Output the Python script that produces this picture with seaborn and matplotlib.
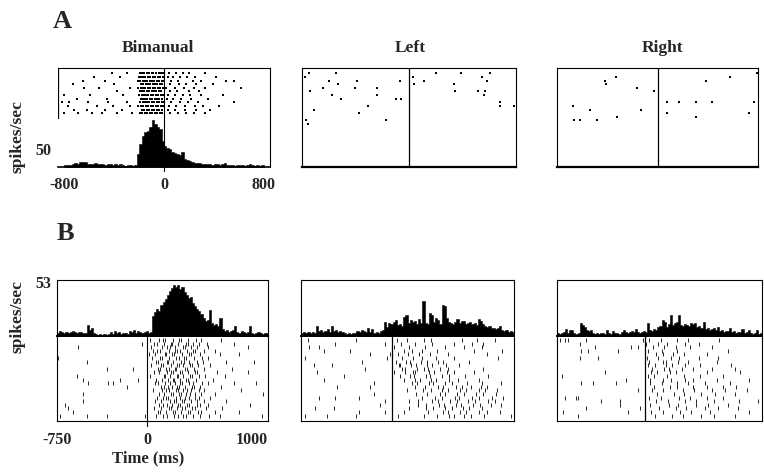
import numpy as np
import pandas as pd
import matplotlib
matplotlib.use("Agg")
import matplotlib.pyplot as plt
import seaborn as sns

# ---------------- DATA ----------------
titles = ["Bimanual", "Left", "Right"]
a_xticks = [-800, 0, 800]
a_xticklabels = ["-800", "0", "800"]
b_xticks = [-750, 0, 1000]
b_xticklabels = ["-750", "0", "1000"]
a_ytick = 50
b_ytick = 53

# A: PSTH values (spikes/sec), 80 bins from -800 to 800 ms
a_bi_hist = [5, 6, 5, 7, 12, 8, 14, 13, 14, 9, 8, 9, 10, 8, 9, 7, 6, 7, 8, 6,
             7, 6, 7, 5, 4, 6, 5, 4, 5, 35, 63, 86, 95, 98, 109, 130, 118, 109, 105, 72,
             58, 52, 49, 42, 38, 36, 32, 42, 21, 18, 16, 15, 12, 12, 11, 8, 7, 8, 7, 6,
             7, 8, 6, 7, 10, 5, 6, 5, 4, 5, 6, 5, 4, 5, 8, 5, 4, 5, 4, 5]
a_left_hist = [1, 0, 2, 1, 0, 1, 0, 0, 1, 2, 1, 0, 1, 0, 1, 1, 0, 2, 1, 0,
               1, 0, 1, 1, 2, 0, 1, 0, 1, 1, 0, 2, 1, 0, 1, 0, 2, 1, 0, 1]
a_right_hist = [0, 1, 0, 0, 1, 0, 1, 0, 0, 1, 0, 1, 2, 1, 0, 1, 2, 1, 1, 0,
                2, 1, 0, 1, 2, 1, 0, 1, 1, 2, 0, 1, 0, 1, 0, 0, 1, 0, 1, 0]

# A: rasters (spike times in ms, one list per trial)
a_bi_raster = [
    [-420, -300, -195, -178, -160, -140, -122, -100, -85, -62, -40, -22, -5, 40, 95, 150, 200, 330],
    [-560, -350, -200, -182, -165, -150, -128, -110, -90, -70, -50, -30, -12, 30, 75, 130, 185, 250, 420],
    [-650, -475, -210, -190, -170, -152, -135, -115, -95, -78, -55, -38, -18, 0, 60, 110, 230, 300, 500, 560],
    [-730, -400, -185, -168, -148, -130, -112, -92, -72, -55, -35, -15, 50, 120, 175, 260, 390],
    [-640, -520, -270, -205, -188, -170, -150, -132, -110, -92, -75, -52, -30, -10, 20, 90, 160, 240, 330, 620],
    [-380, -195, -175, -158, -140, -120, -100, -82, -62, -42, -22, 45, 105, 200, 280],
    [-800, -590, -330, -200, -180, -162, -145, -125, -105, -88, -68, -48, -28, -8, 35, 85, 150, 210, 300, 470],
    [-700, -460, -188, -170, -152, -135, -115, -95, -75, -58, -38, -18, 25, 70, 140, 220, 350],
    [-820, -760, -610, -450, -300, -190, -172, -155, -138, -118, -98, -80, -60, -40, -20, 0, 55, 125, 190, 270, 560],
    [-770, -540, -410, -270, -205, -185, -165, -147, -128, -108, -88, -68, -48, -28, -10, 40, 100, 165, 245, 310, 440],
    [-720, -620, -470, -340, -180, -160, -140, -120, -100, -80, -60, -40, -20, 30, 90, 170, 260, 370],
    [-800, -690, -580, -500, -380, -260, -195, -175, -155, -135, -115, -95, -75, -55, -35, -15, 50, 110, 180, 240, 330],
]
a_left_raster = [
    [-794, -580, 214, 410, 646], [-830, 29, 577], [-638, -410, -71, 117, 622],
    [-561, 42, 355], [-686, -426, -252], [-786, 365, 551, 604], [-609, -254, 593],
    [-543, -106, -64], [720], [-328, 720, 834], [-755], [-395], [], [-821, -183], [-802],
]
a_right_raster = [
    [841], [-350, 611], [-443, 409], [-434], [-176], [-27], [], [],
    [77, 184, 325, 457, 814], [-715], [-569, -142], [77, 771], [-339, 325], [-704, -659, -513],
]

# B: PSTH values (spikes/sec), 100 bins from -750 to 1000 ms
b_bi_hist = [3, 5, 4, 3, 4, 3, 4, 5, 4, 3, 4, 4, 3, 3, 11, 6, 8, 3, 2, 1,
             2, 1, 2, 1, 2, 4, 2, 5, 3, 4, 2, 3, 3, 2, 5, 4, 6, 3, 5, 4,
             3, 4, 5, 3, 4, 20, 24, 27, 25, 30, 33, 36, 40, 44, 47, 50, 48, 50, 46, 48,
             43, 40, 37, 38, 32, 29, 27, 25, 22, 18, 15, 16, 26, 13, 11, 12, 10, 18, 7, 5,
             6, 4, 5, 6, 10, 4, 3, 5, 4, 3, 4, 10, 3, 2, 3, 4, 3, 2, 3, 3]
b_left_hist = [3, 4, 3, 4, 3, 4, 3, 10, 5, 6, 4, 5, 7, 4, 10, 5, 6, 4, 5, 4,
               3, 2, 3, 2, 3, 3, 5, 4, 6, 5, 4, 8, 4, 7, 3, 4, 3, 5, 6, 14,
               9, 13, 12, 14, 16, 11, 12, 10, 19, 21, 13, 16, 14, 15, 12, 17, 13, 34, 13, 12,
               23, 21, 14, 18, 16, 12, 30, 29, 18, 14, 13, 12, 14, 17, 13, 15, 15, 12, 13, 14,
               12, 13, 11, 17, 15, 12, 10, 9, 10, 8, 8, 7, 8, 10, 6, 5, 6, 4, 5, 4]
b_right_hist = [3, 2, 3, 4, 7, 3, 6, 6, 3, 2, 3, 13, 11, 9, 6, 5, 6, 3, 2, 3,
                2, 3, 3, 2, 6, 3, 2, 5, 3, 3, 2, 4, 6, 4, 3, 4, 5, 4, 7, 4,
                3, 4, 5, 4, 13, 6, 5, 7, 6, 9, 10, 16, 14, 9, 12, 21, 11, 13, 14, 21,
                11, 10, 12, 11, 10, 13, 12, 13, 9, 10, 8, 14, 7, 8, 6, 7, 8, 6, 9, 5,
                6, 4, 5, 5, 8, 4, 5, 3, 4, 4, 7, 3, 4, 6, 3, 2, 3, 6, 2, 3]

# B: rasters (spike times in ms, one list per trial)
b_bi_raster = [
    [22, 95, 131, 149, 212, 263, 281, 339, 402, 447, 610],
    [-47, 58, 77, 139, 196, 204, 251, 318, 333, 376, 428, 491, 720],
    [-572, 31, 118, 166, 187, 230, 297, 311, 364, 415, 504, 830],
    [47, 83, 101, 175, 226, 243, 270, 325, 381, 398, 471, 560],
    [12, 66, 142, 158, 207, 219, 288, 344, 359, 436, 600, 760],
    [-738, 39, 105, 124, 183, 235, 262, 306, 320, 389, 455, 500],
    [-503, 74, 91, 160, 171, 214, 276, 302, 347, 411, 462, 650, 880],
    [27, 112, 128, 192, 248, 259, 293, 355, 372, 419, 520],
    [-337, -116, 85, 103, 150, 178, 227, 241, 310, 329, 386, 466, 700],
    [53, 97, 163, 199, 216, 268, 284, 337, 394, 408, 580, 830],
    [-586, 18, 134, 147, 186, 242, 255, 299, 351, 366, 431, 478, 640],
    [-531, -227, -75, 70, 121, 168, 209, 222, 273, 316, 340, 402, 540],
    [-490, -323, -282, 61, 88, 145, 190, 229, 266, 287, 348, 377, 452, 500, 720, 900],
    [-171, 109, 137, 174, 203, 245, 262, 315, 369, 385, 440, 610],
    [44, 119, 156, 181, 233, 254, 296, 331, 362, 425, 467, 780],
    [-531, 92, 140, 197, 211, 258, 279, 323, 354, 398, 445, 560, 960],
    [81, 126, 153, 170, 238, 269, 308, 345, 391, 424, 520],
    [-531, 66, 116, 185, 220, 236, 290, 303, 362, 413, 473, 650],
    [-683, 99, 132, 164, 201, 250, 272, 326, 343, 407, 438, 500, 850],
    [-655, 57, 113, 179, 194, 246, 283, 312, 371, 395, 483, 620],
    [-614, 88, 107, 151, 213, 228, 275, 335, 350, 416, 447, 560, 760],
    [-724, -503, -337, -20, 72, 133, 161, 224, 257, 294, 321, 379, 433, 510, 600, 950],
]
b_left_raster = [
    [-690, -300, 35, 122, 263, 318, 571, 694, 842],
    [-468, -58, 71, 183, 326, 508, 657, 749],
    [-687, -605, 14, 139, 266, 437, 589, 733],
    [-564, -345, 96, 158, 247, 371, 672, 905],
    [-181, -16, 44, 131, 219, 312, 461, 778],
    [-720, -44, 83, 167, 241, 357, 503, 866],
    [-250, 27, 114, 149, 236, 282, 373, 418, 627],
    [-646, -496, 52, 66, 157, 194, 288, 329, 441, 552],
    [-222, 79, 108, 201, 264, 297, 392, 456, 746],
    [-619, 18, 103, 171, 188, 304, 339, 447, 511, 671],
    [-400, 61, 142, 176, 275, 309, 412, 469, 597, 788],
    [-560, 97, 186, 229, 314, 362, 466, 538, 712],
    [-150, 162, 207, 301, 338, 431, 489, 613, 737, 891],
    [-455, -181, 189, 271, 377, 419, 527, 571, 648, 731, 782],
    [-780, 117, 253, 318, 412, 458, 553, 607, 714, 758, 862],
    [-153, 193, 287, 392, 436, 533, 588, 691, 748, 853],
    [-605, -468, -277, 247, 352, 408, 512, 549, 652, 709, 823, 911],
    [-58, 134, 208, 323, 378, 474, 529, 623, 677, 784, 848],
    [-99, 211, 278, 383, 427, 522, 568, 662, 717, 812, 893],
    [-633, -482, 139, 273, 338, 433, 487, 583, 628, 733],
    [-277, -58, 93, 297, 414, 457, 553, 608, 713, 778, 887],
    [-715, -537, -300, 47, 263, 367, 463, 508, 593, 648, 753, 974],
]
b_right_raster = [
    [-725, -683, -654, -499, -17, 38, 141, 273, 366, 632],
    [-555, 12, 113, 188, 342, 458],
    [-428, -116, -60, 71, 167, 262, 389, 573],
    [-541, -484, -230, 28, 144, 277, 712],
    [93, 151, 243, 338, 533],
    [-555, -399, 22, 108, 226, 289, 463, 628],
    [37, 156, 178, 283, 367, 612],
    [31, 87, 182, 229, 343, 467, 733],
    [58, 163, 207, 313, 408, 574, 768],
    [-343, 53, 107, 213, 268, 533, 808],
    [-711, 23, 78, 193, 337, 473, 667],
    [-159, 47, 153, 227, 343, 407, 613, 888],
    [-541, -442, -244, 43, 147, 273, 367, 513, 727],
    [77, 213, 277, 413, 527, 663, 777],
    [-60, 63, 157, 323, 417, 573, 687, 873],
    [107, 253, 337, 483, 597, 773],
    [-683, -584, -569, 33, 137, 293, 387, 533, 667],
    [-371, -216, 93, 197, 343, 437, 593, 807, 968],
    [-216, 47, 203, 287, 433, 537, 713],
    [-499, -45, 117, 263, 347, 513, 627, 793],
    [-697, -145, 53, 157, 303, 397, 553, 887],
    [-569, 87, 233, 327, 483, 587, 773],
]

# ---------------- STYLE ----------------
sns.set_theme(style="white")
plt.rcParams['font.family'] = ['Liberation Serif', 'DejaVu Serif']
plt.rcParams['font.weight'] = 'bold'
plt.rcParams['axes.edgecolor'] = 'black'
plt.rcParams['axes.linewidth'] = 0.8

W, H = 764, 475
fig = plt.figure(figsize=(W / 100, H / 100), dpi=100)
fig.patch.set_facecolor('white')


def add_ax(x0, x1, y0, y1):
    ax = fig.add_axes([x0 / W, 1 - y1 / H, (x1 - x0) / W, (y1 - y0) / H])
    ax.set_facecolor('none')
    ax.tick_params(length=0)
    ax.set_xticks([])
    ax.set_yticks([])
    return ax


def raster_df(trials):
    rows = [(t, i) for i, tr in enumerate(trials) for t in tr]
    return pd.DataFrame(rows, columns=['time', 'trial'])


def draw_hist(ax, vals, lo, hi, ymax, xlim):
    edges = np.linspace(lo, hi, len(vals) + 1)
    df = pd.DataFrame({'t': (edges[:-1] + edges[1:]) / 2, 'w': np.asarray(vals, float)})
    sns.histplot(data=df, x='t', weights='w', bins=list(edges), element='step', fill=True,
                 color='black', alpha=1, linewidth=0.4, ax=ax)
    ax.set_xlim(*xlim)
    ax.set_ylim(0, ymax)
    ax.set_xlabel('')
    ax.set_ylabel('')
    ax.set_xticks([])
    ax.set_yticks([])


def draw_raster(ax, trials, xlim, ylim, marker, s, lw):
    df = raster_df(trials)
    sns.scatterplot(data=df, x='time', y='trial', marker=marker, s=s, color='black',
                    linewidth=lw, ax=ax, legend=False)
    ax.set_xlim(*xlim)
    ax.set_ylim(*ylim)
    ax.set_xlabel('')
    ax.set_ylabel('')
    ax.set_xticks([])
    ax.set_yticks([])


tick_font = dict(fontsize=11.5, fontweight='bold')

# ---------------- PANEL A ----------------
A_XLIM = (-850, 850)
A_YMAX = 272
a_boxes = [(58, 270), (302, 516), (557, 758)]
a_hists = [a_bi_hist, a_left_hist, a_right_hist]
a_rasters = [a_bi_raster, a_left_raster, a_right_raster]
for k in range(3):
    x0, x1 = a_boxes[k]
    hax = add_ax(x0, x1, 68, 167)
    draw_hist(hax, a_hists[k], -800, 800, A_YMAX, A_XLIM)
    for sp in hax.spines.values():
        sp.set_visible(True)
        sp.set_linewidth(0.8)
    hax.spines['bottom'].set_linewidth(1.6 if k else 1.2)
    if k == 0:
        hax.spines['left'].set_visible(False)
        hax.axvline(A_XLIM[0], ymin=0.495, ymax=1, color='black', lw=0.9)
        hax.axvline(0, ymin=-0.04, ymax=1, color='black', lw=0.8, clip_on=False)
        hax.set_xticks(a_xticks)
        hax.set_xticklabels(a_xticklabels, **tick_font)
        hax.set_yticks([a_ytick])
        hax.set_yticklabels([str(a_ytick)], **tick_font)
        hax.tick_params(axis='x', length=0, pad=7)
        hax.tick_params(axis='y', length=0, pad=5)
    else:
        hax.axvline(0, ymin=0, ymax=1, color='black', lw=0.9)
    rax = add_ax(x0, x1, 68, 133)
    draw_raster(rax, a_rasters[k], A_XLIM, (16.5, -1.5), 's', 2.2, 0)
    for sp in rax.spines.values():
        sp.set_visible(False)

# ---------------- PANEL B ----------------
B_XLIM = (-750, 1000)
B_YMAX = 55
b_boxes = [(57, 268), (301, 514), (557, 762)]
b_hists = [b_bi_hist, b_left_hist, b_right_hist]
b_rasters = [b_bi_raster, b_left_raster, b_right_raster]
for k in range(3):
    x0, x1 = b_boxes[k]
    hax = add_ax(x0, x1, 280, 336)
    draw_hist(hax, b_hists[k], -750, 1000, B_YMAX, B_XLIM)
    for sp in hax.spines.values():
        sp.set_visible(True)
        sp.set_linewidth(0.8)
    hax.spines['bottom'].set_linewidth(1.4)
    rax = add_ax(x0, x1, 336, 421)
    draw_raster(rax, b_rasters[k], B_XLIM, (22.5, -1.1), '|', 5.0, 0.6)
    for sp in rax.spines.values():
        sp.set_visible(True)
        sp.set_linewidth(0.8)
    rax.spines['top'].set_visible(False)
    if k == 0:
        rax.axvline(0, ymin=-0.06, ymax=1, color='black', lw=0.8, clip_on=False)
        rax.set_xticks(b_xticks)
        labs = rax.set_xticklabels(b_xticklabels, **tick_font)
        labs[-1].set_horizontalalignment('right')
        rax.tick_params(axis='x', length=0, pad=8)
        hax.set_yticks([b_ytick])
        hax.set_yticklabels([str(b_ytick)], **tick_font)
        hax.tick_params(axis='y', length=0, pad=4)
    else:
        rax.axvline(0, ymin=0, ymax=1, color='black', lw=0.9)

# ---------------- TEXT ----------------
def ftext(x, y, s, **kw):
    fig.text(x / W, 1 - y / H, s, ha='center', va='center', fontweight='bold', **kw)

ftext(62, 22, 'A', fontsize=19)
ftext(65, 233, 'B', fontsize=19)
for name, xc in zip(titles, [158, 410, 663]):
    ftext(xc, 48, name, fontsize=12.5)
ftext(18, 137, 'spikes/sec', fontsize=12.5, rotation=90)
ftext(18, 317, 'spikes/sec', fontsize=12.5, rotation=90)
ftext(148, 458, 'Time (ms)', fontsize=12)

fig.savefig('out.png', dpi=100, facecolor='white')
